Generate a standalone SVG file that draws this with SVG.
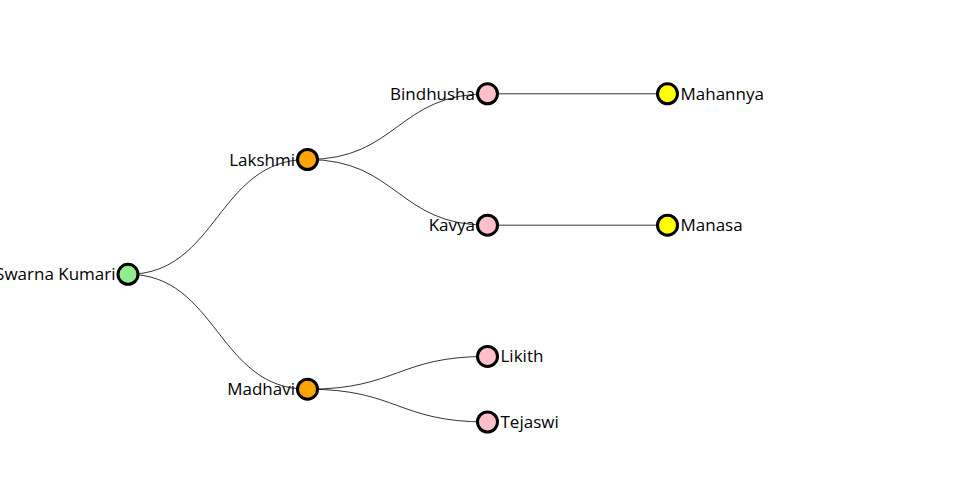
<svg xmlns="http://www.w3.org/2000/svg" width="960" height="500" viewBox="0 0 960 500">
<style>
.link{fill:none;stroke:#000;stroke-width:0.8}
.node circle{stroke:#000;stroke-width:3}
.node text{font-family:"Open Sans","Noto Sans",sans-serif;font-size:17px;fill:#000}
.l{text-anchor:end}
.r{text-anchor:start}
</style>
<rect width="960" height="500" fill="#fff"/>
<g id="connectors">
<path class="link" d="M128,274.3 C217.5,274.3 217.5,159.5 307.5,159.5"/>
<path class="link" d="M128,274.3 C217.5,274.3 217.5,389.2 307.5,389.2"/>
<path class="link" d="M307.5,159.5 C397.5,159.5 397.5,93.8 487.5,93.8"/>
<path class="link" d="M307.5,159.5 C397.5,159.5 397.5,225.2 487.5,225.2"/>
<path class="link" d="M307.5,389.2 C397.5,389.2 397.5,356.4 487.5,356.4"/>
<path class="link" d="M307.5,389.2 C397.5,389.2 397.5,422 487.5,422"/>
<path class="link" d="M487.5,93.8 L667.5,93.8"/>
<path class="link" d="M487.5,225.2 L667.5,225.2"/>
</g>
<g id="node-swarna" class="node"><circle cx="128" cy="274.3" r="10" fill="#90ee90"/><text class="l" x="115.5" y="280.3">Swarna Kumari</text></g>
<g id="node-lakshmi" class="node"><circle cx="307.5" cy="159.5" r="10" fill="#ffa500"/><text class="l" x="295" y="165.5">Lakshmi</text></g>
<g id="node-madhavi" class="node"><circle cx="307.5" cy="389.2" r="10" fill="#ffa500"/><text class="l" x="295" y="395.2">Madhavi</text></g>
<g id="node-bindhusha" class="node"><circle cx="487.5" cy="93.8" r="10" fill="#ffc0cb"/><text class="l" x="475" y="99.8">Bindhusha</text></g>
<g id="node-kavya" class="node"><circle cx="487.5" cy="225.2" r="10" fill="#ffc0cb"/><text class="l" x="475" y="231.2">Kavya</text></g>
<g id="node-likith" class="node"><circle cx="487.5" cy="356.4" r="10" fill="#ffc0cb"/><text class="r" x="500.5" y="362.4">Likith</text></g>
<g id="node-tejaswi" class="node"><circle cx="487.5" cy="422" r="10" fill="#ffc0cb"/><text class="r" x="500.5" y="428">Tejaswi</text></g>
<g id="node-mahannya" class="node"><circle cx="667.5" cy="93.8" r="10" fill="#ffff00"/><text class="r" x="680.5" y="99.8">Mahannya</text></g>
<g id="node-manasa" class="node"><circle cx="667.5" cy="225.2" r="10" fill="#ffff00"/><text class="r" x="680.5" y="231.2">Manasa</text></g>
</svg>
